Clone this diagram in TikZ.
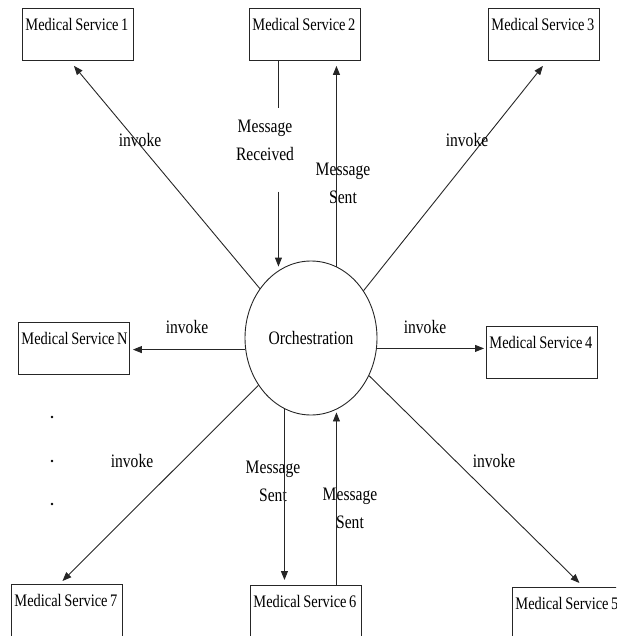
\documentclass[tikz,border=0pt]{standalone}
\usepackage{fontspec}
\setmainfont{Liberation Serif}[FakeStretch=0.82]
\usetikzlibrary{shapes.geometric}
\usetikzlibrary{arrows.meta}
\usetikzlibrary{calc}
\tikzset{basic/.style={draw=black!85,line width=0.9pt}}
\tikzset{service/.style={basic,rectangle,anchor=north west,text width=105pt,
                         align=left,inner xsep=3pt,inner ysep=0pt,
                         text height=22pt,text depth=30pt,
                         font=\fontsize{17.6}{20}\selectfont,
                         execute at begin node={\spaceskip=2.6pt\relax}}}
\tikzset{hub/.style={basic,ellipse,minimum width=132pt,minimum height=154pt,
                     inner sep=0pt,font=\fontsize{19}{28}\selectfont}}
\tikzset{link/.style={basic,-{Triangle[length=9pt,width=7pt]}}}
\tikzset{tag/.style={align=center,inner sep=0pt,font=\fontsize{19}{28}\selectfont}}
\tikzset{dot/.style={circle,fill=black,inner sep=0.9pt}}

\begin{document}
\begin{tikzpicture}[x=1pt,y=-1pt]
    \useasboundingbox (0,0) rectangle (616,636);
    \clip (0,0) rectangle (616,636);
    \foreach \n/\x/\y in {1/22/8,2/249/8,3/488/8,N/18/322,4/486/326,
                          7/11/584,6/250/585,5/512/587}{%
          \node[service] (ms\n) at (\x,\y) {\mbox{Medical Service \n}};
        }
    \node[hub] (orch) at (311,338) {Orchestration};
    % invoke arrows
    \draw[link] (orch.136) -- ($(ms1.south)+(-4,5)$);
    \draw[link] (orch.42) -- ($(ms3.south)+(-1,5)$);
    \draw[link] (orch.190) -- ($(orch.190 -| msN.east)+(3,0)$);
    \draw[link] (orch.-9) -- ($(orch.-9 -| ms4.west)+(-2,0)$);
    \draw[link] (orch.222) -- ($(ms7.north)+(-4.5,-3)$);
    \draw[link] (orch.-33) -- ($(ms5.north)+(11.5,-4)$);
    \foreach \n/\x/\y in {1/140/140,3/467/140,N/187/327,4/425/327,7/132/461,5/494/461}{%
          \node[tag] (inv\n) at (\x,\y) {invoke};
        }
    % messages
    \node[tag] (recv) at (265,140) {Message\\Received};
    \coordinate (rin) at ($(ms2.south)+(-26.5,0)$);
    \draw[basic] (rin) -- ($(rin |- recv.north)+(0,-11)$);
    \draw[link] ($(rin |- recv.south)+(0,31)$) -- ($(rin |- orch.north)+(0,6)$);
    \node[tag] (sent2) at (343,183) {Message\\Sent};
    \coordinate (rout) at ($(ms2.south)+(31.5,0)$);
    \draw[link] ($(rout |- orch.north)+(0,6)$) -- ($(rout)+(0,5)$);
    \node[tag] (sent6a) at (273,481) {Message\\Sent};
    \coordinate (s6down) at ($(ms6.north)+(-21.5,0)$);
    \draw[link] ($(s6down |- orch.south)+(0,-6)$) -- ($(s6down)+(0,-5)$);
    \node[tag] (sent6b) at (350,508) {Message\\Sent};
    \coordinate (s6up) at ($(ms6.north)+(30.5,0)$);
    \draw[link] (s6up) -- ($(s6up |- orch.south)+(0,-3)$);
    % more services
    \foreach \y [count=\i] in {417,461,504}{%
          \node[dot] (dot\i) at (52,\y) {};
        }
\end{tikzpicture}
\end{document}
